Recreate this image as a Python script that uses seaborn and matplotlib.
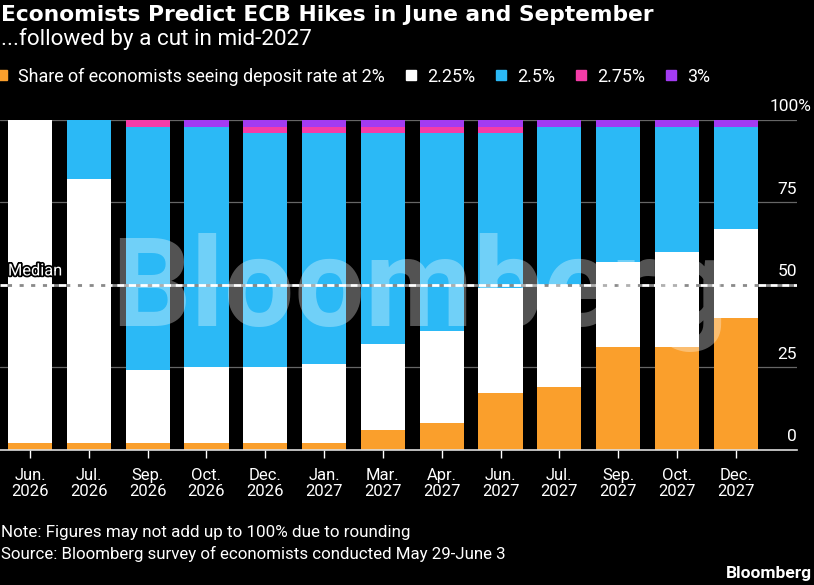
import matplotlib
matplotlib.use("Agg")
import matplotlib.pyplot as plt
from matplotlib.lines import Line2D
from matplotlib.transforms import ScaledTranslation
import matplotlib.patheffects as pe
import numpy as np
import seaborn as sns

# ---- data ----
months = ["Jun.\n2026", "Jul.\n2026", "Sep.\n2026", "Oct.\n2026", "Dec.\n2026", "Jan.\n2027",
          "Mar.\n2027", "Apr.\n2027", "Jun.\n2027", "Jul.\n2027", "Sep.\n2027", "Oct.\n2027", "Dec.\n2027"]
rate_2_00 = [2, 2, 2, 2, 2, 2, 6, 8, 17, 19, 31, 31, 40]
rate_2_25 = [98, 80, 22, 23, 23, 24, 26, 28, 32, 31, 26, 29, 27]
rate_2_50 = [0, 18, 74, 73, 71, 70, 64, 60, 47, 48, 41, 38, 31]
rate_2_75 = [0, 0, 2, 0, 2, 2, 2, 2, 2, 0, 0, 0, 0]
rate_3_00 = [0, 0, 0, 2, 2, 2, 2, 2, 2, 2, 2, 2, 2]
series_labels = ["Share of economists seeing deposit rate at 2%", "2.25%", "2.5%", "2.75%", "3%"]
y_ticks = [0, 25, 50, 75, 100]
y_tick_labels = ["0", "25", "50", "75", "100%"]
median_value = 50

colors = ["#FA9F2C", "#FFFFFF", "#2BB9F6", "#F53CA8", "#A33BF2"]

sns.set_theme(style="dark")
plt.rcParams["font.family"] = ["Roboto", "DejaVu Sans"]
plt.rcParams["text.color"] = "white"

fig = plt.figure(figsize=(8.14, 5.85), dpi=100, facecolor="black")
W, H = 814, 585
ax = fig.add_axes([0, 1 - 449.5 / H, 797 / W, (449.5 - 120) / H])
ax.set_facecolor("black")
renderer = fig.canvas.get_renderer()


def fit_width(txt, target_px):
    w = txt.get_window_extent(renderer).width
    txt.set_fontsize(txt.get_fontsize() * target_px / w)


# gridlines
for t in y_ticks[1:]:
    if t == median_value:
        continue
    ax.axhline(t, color="#666666", lw=0.9, zorder=0)

series = [rate_2_00, rate_2_25, rate_2_50, rate_2_75, rate_3_00]
bottom = np.zeros(len(months))
for vals, col in zip(series, colors):
    sns.barplot(x=months, y=vals, bottom=bottom, color=col, width=0.75,
                saturation=1, ax=ax, zorder=2, linewidth=0, order=months)
    bottom = bottom + np.array(vals)

# median line
ax.axhline(median_value, color="white", lw=2, ls=(0, (2.6, 1.6)), gapcolor="#8a8a8a", zorder=4)
med = ax.text(8 / 797, median_value + 1.9, "Median", transform=ax.get_yaxis_transform(),
              fontsize=12, color="white", ha="left", va="bottom", zorder=5,
              path_effects=[pe.withStroke(linewidth=2.5, foreground="black")])
fit_width(med, 54)

# watermark
ax.text(6.63, 37.5, "Bloomberg", fontsize=90, fontweight="bold", color="white", alpha=0.33,
        ha="center", va="baseline", zorder=6)

ax.set_xlim(-0.51, 13.04)
ax.set_ylim(0, 100)
for s in ["top", "left", "right"]:
    ax.spines[s].set_visible(False)
ax.spines["bottom"].set_color("#dddddd")
ax.spines["bottom"].set_linewidth(1.2)
ax.spines["bottom"].set_zorder(5)
ax.grid(False)

ax.set_xlabel("")
ax.set_ylabel("")
ax.tick_params(axis="x", colors="white", length=6, width=1, direction="out", pad=7,
               labelsize=12, labelcolor="white", bottom=True)
ax.set_xticks(range(len(months)))
ax.set_xticklabels(months, linespacing=1.08)

ax.yaxis.tick_right()
ax.set_yticks(y_ticks)
ax.set_yticklabels(y_tick_labels)
ax.tick_params(axis="y", length=0, pad=0, labelsize=12.5, labelcolor="white")
for lab in ax.get_yticklabels():
    lab.set_horizontalalignment("right")
    dx = 14 if lab.get_text().endswith("%") else 0
    lab.set_verticalalignment("bottom")
    lab.set_transform(lab.get_transform() + ScaledTranslation(dx / 100, 4 / 72, fig.dpi_scale_trans))

# titles
title = fig.text(1 / W, 1 - 21 / H, "Economists Predict ECB Hikes in June and September", fontsize=15,
                 fontweight="bold", family=["DejaVu Sans"], ha="left", va="baseline", color="white")
fit_width(title, 656)
sub = fig.text(1 / W, 1 - 45.5 / H, "...followed by a cut in mid-2027", fontsize=15,
               ha="left", va="baseline", color="white")
fit_width(sub, 312)

# legend
handles = [Line2D([0], [0], marker="s", ls="none", markersize=7.3, markerfacecolor=c,
                  markeredgecolor=c) for c in colors]
leg = fig.legend(handles, series_labels, loc="center left", bbox_to_anchor=(-0.004, 1 - 76.5 / H),
                 ncol=5, frameon=False, handlelength=0.6, handletextpad=0.6, columnspacing=1.15,
                 fontsize=12.9, borderaxespad=0, borderpad=0)
for t in leg.get_texts():
    t.set_color("white")

# notes
note = fig.text(1 / W, 1 - 536.5 / H, "Note: Figures may not add up to 100% due to rounding",
                fontsize=12.5, ha="left", va="baseline", color="white")
fit_width(note, 409)
src = fig.text(1 / W, 1 - 558.5 / H, "Source: Bloomberg survey of economists conducted May 29-June 3",
               fontsize=12.5, ha="left", va="baseline", color="white")
fit_width(src, 504)
logo = fig.text(812 / W, 1 - 578 / H, "Bloomberg", fontsize=12, fontweight="bold", ha="right",
                va="baseline", color="white")
fit_width(logo, 85)

fig.savefig("out.png", dpi=100, facecolor="black")
